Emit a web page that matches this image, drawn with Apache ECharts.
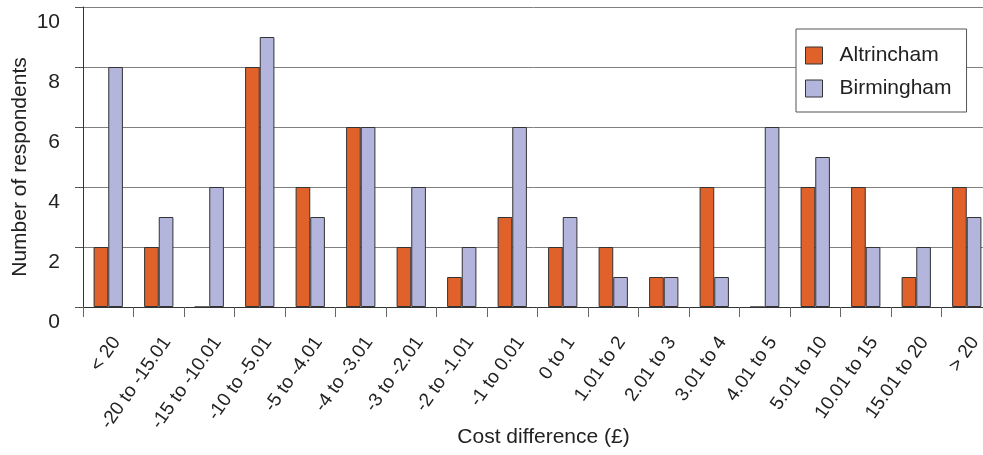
<!DOCTYPE html>
<html>
<head>
<meta charset="utf-8">
<script src="https://cdn.jsdelivr.net/npm/echarts@6/dist/echarts.min.js"></script>
<style>
  html, body { margin: 0; padding: 0; background: #fff; }
  #chart { width: 983px; height: 455px; }
</style>
</head>
<body>
<div id="chart"></div>
<script>
// Cost difference bands (£)
const categories = [
  '< 20', '-20 to -15.01', '-15 to -10.01', '-10 to -5.01', '-5 to -4.01',
  '-4 to -3.01', '-3 to -2.01', '-2 to -1.01', '-1 to 0.01', '0 to 1',
  '1.01 to 2', '2.01 to 3', '3.01 to 4', '4.01 to 5', '5.01 to 10',
  '10.01 to 15', '15.01 to 20', '> 20'
];

// Number of respondents per band
const altrincham = [2, 2, 0, 8, 4, 6, 2, 1, 3, 2, 2, 1, 4, 0, 4, 4, 1, 4];
const birmingham = [8, 3, 4, 9, 3, 6, 4, 2, 6, 3, 1, 1, 1, 6, 5, 2, 2, 3];

const yTicks = [0, 2, 4, 6, 8, 10];

const FONT = '"Liberation Sans", Arial, sans-serif';
const TEXT = '#222222';

const chart = echarts.init(document.getElementById('chart'), null, { renderer: 'canvas' });

chart.setOption({
  animation: false,
  backgroundColor: '#ffffff',
  textStyle: { fontFamily: FONT, color: TEXT },
  grid: { left: 83, top: 7, right: -9, bottom: 148, containLabel: false, outerBoundsMode: 'none' },
  legend: {
    orient: 'vertical',
    left: 796,
    top: 29,
    padding: [16, 15, 13, 9],
    backgroundColor: '#ffffff',
    borderColor: '#555555',
    borderWidth: 1,
    borderRadius: 0,
    itemWidth: 17,
    itemHeight: 17,
    itemGap: 12,
    icon: 'rect',
    itemStyle: { borderColor: '#333333', borderWidth: 1 },
    textStyle: { fontFamily: FONT, fontSize: 21, color: TEXT, padding: [0, 0, 0, 12] },
    data: ['Altrincham', 'Birmingham']
  },
  xAxis: {
    type: 'category',
    data: categories,
    name: 'Cost difference (£)',
    nameLocation: 'middle',
    nameGap: 120,
    nameMoveOverlap: false,
    nameTextStyle: { fontFamily: FONT, fontSize: 21, color: TEXT, padding: [0, 0, 0, 12] },
    axisLine: { show: true, lineStyle: { color: '#333333', width: 1 } },
    axisTick: { show: true, alignWithLabel: false, length: 10, lineStyle: { color: '#666666' } },
    axisLabel: {
      interval: 0,
      rotate: 55,
      margin: 26,
      verticalAlign: 'top',
      lineHeight: 20,
      fontFamily: FONT,
      fontSize: 19,
      color: TEXT
    },
    splitLine: { show: false }
  },
  yAxis: {
    type: 'value',
    min: yTicks[0],
    max: yTicks[yTicks.length - 1],
    interval: 2,
    name: 'Number of respondents',
    nameLocation: 'middle',
    nameRotate: 90,
    nameGap: 52,
    nameMoveOverlap: false,
    nameTextStyle: { fontFamily: FONT, fontSize: 21, color: TEXT, padding: [0, 20, 0, 0] },
    axisLine: { show: true, lineStyle: { color: '#333333', width: 1 } },
    axisTick: { show: true, length: 8, lineStyle: { color: '#555555' } },
    axisLabel: {
      margin: 23,
      fontFamily: FONT,
      fontSize: 21,
      color: TEXT,
      verticalAlign: 'top',
      lineHeight: 30
    },
    splitLine: { show: true, lineStyle: { color: '#808080', width: 1 } }
  },
  series: [
    {
      name: 'Altrincham',
      type: 'bar',
      data: altrincham,
      barGap: '0%',
      barCategoryGap: '42%',
      itemStyle: { color: '#E0622A', borderColor: '#333333', borderWidth: 1 }
    },
    {
      name: 'Birmingham',
      type: 'bar',
      data: birmingham,
      barGap: '0%',
      barCategoryGap: '42%',
      itemStyle: { color: '#B3B5DC', borderColor: '#333333', borderWidth: 1 }
    }
  ]
});
</script>
</body>
</html>
